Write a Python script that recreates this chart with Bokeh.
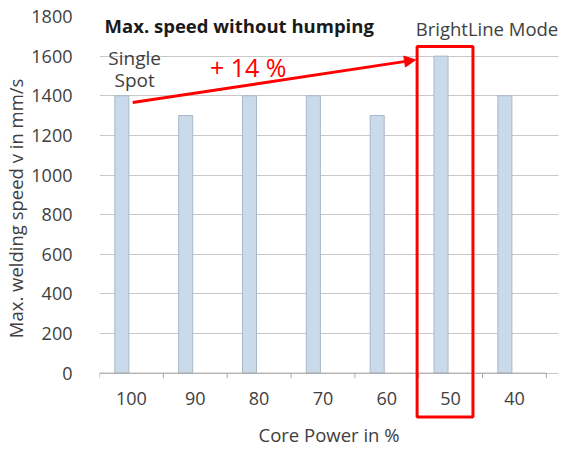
import math
from bokeh.plotting import figure
from bokeh.models import (Range1d, FixedTicker, Label, BoxAnnotation, Arrow,
                          NormalHead, ColumnDataSource)
from bokeh.embed import file_html
from bokeh.resources import INLINE

# ---- data ----
categories = ["100", "90", "80", "70", "60", "50", "40"]
speeds = [1400, 1300, 1400, 1400, 1300, 1600, 1400]
y_ticks = [0, 200, 400, 600, 800, 1000, 1200, 1400, 1600, 1800]

FONT = "Open Sans"
TXT = "#404040"
AXIS = "#A6A6A6"

n = len(categories)
idx = list(range(n))
src = ColumnDataSource(dict(x=[i - 0.15 for i in idx], top=speeds))
cat_src = ColumnDataSource(dict(x=idx, y=[0] * n, text=categories))
edge_src = ColumnDataSource(dict(x=[i - 0.5 for i in range(n + 1)], y=[0] * (n + 1)))

# frame extended right (for "BrightLine Mode") and below zero (for the red box)
p = figure(width=560, height=449, output_backend="svg", toolbar_location=None,
           x_range=Range1d(-0.5, n - 0.5 + 0.19), y_range=Range1d(-234, 1800),
           min_border_left=99, min_border_right=2, min_border_top=16,
           min_border_bottom=25)
p.outline_line_color = None
p.background_fill_color = "white"
p.border_fill_color = "white"

p.vbar(x="x", top="top", width=0.22, bottom=0, source=src,
       fill_color="#C9DBEB", line_color="#A9B8C6", line_width=1)

# category axis drawn at y = 0
p.segment(x0=-0.5, y0=0, x1=n - 0.5, y1=0, line_color=AXIS, line_width=1)
p.ray(x="x", y="y", source=edge_src, length=5, length_units="screen",
      angle=-math.pi / 2, line_color=AXIS, line_width=1)
p.text(x="x", y="y", text="text", source=cat_src, y_offset=25,
       text_align="center", text_baseline="middle", text_font={"value": FONT},
       text_font_size="18px", text_color=TXT)

# bottom axis only carries the title
xa = p.xaxis[0]
xa.ticker = FixedTicker(ticks=[])
xa.axis_line_color = None
xa.major_tick_line_color = None
xa.minor_tick_line_color = None
xa.major_tick_out = 0
xa.axis_label = "Core Power in %"
xa.axis_label_text_font = FONT
xa.axis_label_text_font_size = "18.5px"
xa.axis_label_text_font_style = "normal"
xa.axis_label_text_color = TXT
xa.axis_label_standoff = 2

# y axis (label padded at its start so it sits centred on 0..1800)
ya = p.yaxis[0]
ya.bounds = (0, 1800)
ya.ticker = FixedTicker(ticks=y_ticks)
ya.axis_line_color = None
ya.major_tick_line_color = None
ya.minor_tick_line_color = None
ya.major_label_text_font = FONT
ya.major_label_text_font_size = "18px"
ya.major_label_text_color = TXT
ya.major_label_standoff = 21
ya.axis_label = "\u00a0\u00a0\u00a0\u00a0Max. welding speed v in mm/s"
ya.axis_label_text_font = FONT
ya.axis_label_text_font_size = "18.5px"
ya.axis_label_text_font_style = "normal"
ya.axis_label_text_color = TXT
ya.axis_label_standoff = 0

p.xgrid.grid_line_color = None
p.ygrid.grid_line_color = "#C8C8C8"
p.ygrid.grid_line_width = 1
p.ygrid.bounds = (-0.5, n - 0.5)

# ---- annotations ----
title_pos = (-0.42, 1755)
single_pos = (0.05, 1590)
spot_pos = (0.05, 1481)
gain_pos = (1.83, 1546)
mode_pos = (5.57, 1740)
box_lrtb = (4.475, 5.35, 1648, -222)
arrow_xy = (0.02, 1366, 4.45, 1581)

p.add_layout(Label(x=title_pos[0], y=title_pos[1], text="Max. speed without humping",
                   text_font=FONT, text_font_size="18.5px", text_font_style="bold",
                   text_color="#1a1a1a", text_baseline="middle", text_align="left"))
p.add_layout(Label(x=single_pos[0], y=single_pos[1], text="Single",
                   text_font=FONT, text_font_size="19px", text_color=TXT,
                   text_baseline="middle", text_align="center"))
p.add_layout(Label(x=spot_pos[0], y=spot_pos[1], text="Spot",
                   text_font=FONT, text_font_size="19px", text_color=TXT,
                   text_baseline="middle", text_align="center"))
p.add_layout(Label(x=gain_pos[0], y=gain_pos[1], text="+ 14 %",
                   text_font=FONT, text_font_size="25px", text_color="#FF0000",
                   text_baseline="middle", text_align="center"))
p.add_layout(Label(x=mode_pos[0], y=mode_pos[1], text="BrightLine Mode",
                   text_font=FONT, text_font_size="18.5px", text_color=TXT,
                   text_baseline="middle", text_align="center"))

p.add_layout(BoxAnnotation(left=box_lrtb[0], right=box_lrtb[1], top=box_lrtb[2],
                           bottom=box_lrtb[3], fill_color=None, fill_alpha=0,
                           line_color="#FF0000", line_width=3, line_alpha=1))
p.add_layout(Arrow(x_start=arrow_xy[0], y_start=arrow_xy[1], x_end=arrow_xy[2],
                   y_end=arrow_xy[3], line_color="#FF0000", line_width=3,
                   end=NormalHead(size=11, fill_color="#FF0000", line_color="#FF0000")))

open("out.html", "w").write(file_html(p, INLINE))
